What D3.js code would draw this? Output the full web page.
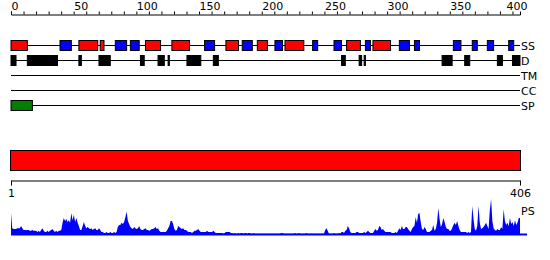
<!DOCTYPE html>
<html>
<head>
<meta charset="utf-8">
<script src="https://cdn.jsdelivr.net/npm/d3@7"></script>
<style>
body { margin: 0; background: #fff; }
svg { display: block; font-family: "DejaVu Sans", sans-serif; }
</style>
</head>
<body>
<svg id="chart" width="550" height="260"></svg>
<script>
// sequence length and ruler
var seqLength = 406;
var rulerTicks = [0, 50, 100, 150, 200, 250, 300, 350, 400];

// secondary structure (residue ranges)
var helix = [[1,14],[55,70],[72,75],[108,120],[129,143],[172,182],[197,205],[219,234],[268,279],[289,303]];
var strand = [[40,49],[84,93],[96,103],[155,163],[185,193],[211,217],[241,245],[258,264],[283,287],[310,318],[322,326],[353,359],[368,372],[380,385],[397,401]];

// disorder, transmembrane, coiled coil, signal peptide
var disorder = [[1,5],[14,38],[55,57],[71,80],[104,107],[118,123],[126,127],[141,152],[162,166],[264,267],[278,280],[282,283],[344,352],[362,366],[388,392],[400,406]];
var transmembrane = [];
var coiledCoil = [];
var signalPeptide = [[1,18]];

var rowLabels = ["SS", "D", "TM", "CC", "SP"];

// per-residue PS score
var psScores = [
  .58,.18,.16,.16,.16,.18,.18,.18,.24,.18,
  .13,.13,.13,.13,.13,.11,.11,.13,.11,.11,
  .11,.08,.11,.08,.13,.18,.11,.08,.08,.11,
  .08,.11,.13,.16,.11,.08,.11,.08,.11,.11,
  .13,.32,.45,.37,.42,.34,.39,.32,.58,.39,
  .53,.34,.45,.32,.24,.13,.13,.24,.34,.24,
  .18,.21,.18,.16,.18,.13,.16,.18,.13,.13,
  .18,.13,.08,.08,.05,.05,.08,.05,.05,.08,
  .05,.05,.08,.05,.08,.21,.26,.26,.32,.29,
  .34,.47,.61,.37,.29,.21,.18,.16,.21,.18,
  .16,.18,.24,.16,.13,.13,.16,.18,.13,.13,
  .11,.13,.16,.16,.18,.21,.16,.18,.11,.08,
  .08,.08,.08,.08,.11,.18,.24,.37,.37,.29,
  .16,.11,.13,.24,.21,.18,.16,.18,.13,.13,
  .11,.08,.08,.08,.05,.08,.11,.11,.13,.16,
  .11,.08,.08,.08,.08,.08,.11,.08,.08,.08,
  .08,.11,.08,.05,.05,.05,.05,.05,.05,.03,
  .05,.08,.08,.08,.08,.05,.05,.03,.05,.03,
  .03,.05,.03,.05,.05,.03,.05,.05,.03,.05,
  .05,.03,.03,.05,.03,.03,.03,.03,.03,.03,
  .03,.03,.03,.03,.03,.03,.03,.03,.03,.03,
  .03,.03,.03,.03,.03,.05,.05,.03,.03,.03,
  .03,.03,.03,.03,.03,.03,.05,.03,.03,.05,
  .03,.03,.03,.03,.03,.05,.03,.03,.03,.03,
  .03,.03,.03,.03,.03,.03,.03,.03,.03,.03,
  .13,.18,.11,.03,.03,.03,.03,.05,.03,.03,
  .03,.05,.03,.08,.08,.05,.11,.13,.24,.18,
  .08,.05,.05,.05,.05,.08,.08,.05,.05,.05,
  .05,.08,.05,.08,.11,.08,.05,.05,.05,.11,
  .16,.11,.13,.24,.21,.13,.16,.11,.08,.08,
  .08,.08,.08,.05,.05,.05,.08,.05,.11,.18,
  .13,.24,.16,.16,.21,.21,.16,.11,.08,.16,
  .21,.24,.47,.32,.55,.58,.34,.16,.13,.21,
  .16,.08,.08,.08,.11,.13,.26,.11,.16,.32,
  .71,.42,.21,.29,.45,.34,.21,.16,.16,.11,
  .11,.18,.26,.32,.26,.37,.24,.13,.08,.08,
  .08,.08,.08,.05,.08,.05,.08,.76,.42,.16,
  .11,.24,.76,.32,.16,.18,.21,.26,.32,.24,
  .16,.66,.95,.37,.18,.13,.11,.16,.13,.13,
  .21,.16,.68,.37,.26,.32,.24,.45,.29,.34,
  .24,.39,.26,.32,.45,.45
];

var svg = d3.select("#chart");
svg.append("rect").attr("width", 550).attr("height", 260).attr("fill", "#fff");

var left = 11, right = 520;
var x = d3.scaleLinear().domain([1, seqLength]).range([left, right]);
var xRuler = d3.scaleLinear().domain([0, seqLength]).range([left, right]);

// top ruler
var ruler = svg.append("g").attr("transform", "translate(0,14.5)")
  .call(d3.axisTop(xRuler)
    .tickValues(d3.range(0, 401, 10))
    .tickSize(3)
    .tickSizeOuter(3)
    .tickPadding(2)
    .tickFormat(function (d) { return rulerTicks.indexOf(d) >= 0 ? d : ""; }));
ruler.select(".domain").attr("stroke", "#000");
ruler.selectAll("line").attr("stroke", "#000");
ruler.selectAll("text")
  .attr("font-size", "11px").attr("font-family", "DejaVu Sans").attr("fill", "#000")
  .attr("text-anchor", "start")
  .attr("dx", function (d) { return d === 400 ? "-0.6em" : "0"; });

// feature rows
var rows = [
  { y: 45.5, boxes: helix.map(function (d) { return { s: d[0], e: d[1], c: "#ff0000" }; })
      .concat(strand.map(function (d) { return { s: d[0], e: d[1], c: "#0000ff" }; })) },
  { y: 60.5, boxes: disorder.map(function (d) { return { s: d[0], e: d[1], c: "#000000" }; }) },
  { y: 75.5, boxes: transmembrane.map(function (d) { return { s: d[0], e: d[1], c: "#ffff00" }; }) },
  { y: 90.5, boxes: coiledCoil.map(function (d) { return { s: d[0], e: d[1], c: "#00ffff" }; }) },
  { y: 105.5, boxes: signalPeptide.map(function (d) { return { s: d[0], e: d[1], c: "#008000" }; }) }
];

rows.forEach(function (row, i) {
  var g = svg.append("g");
  g.append("line")
    .attr("x1", x(1)).attr("x2", x(seqLength))
    .attr("y1", row.y).attr("y2", row.y)
    .attr("stroke", "#000").attr("stroke-width", 1);
  g.selectAll("rect")
    .data(row.boxes)
    .enter()
    .append("rect")
    .attr("x", function (d) { return x(d.s); })
    .attr("y", row.y - 5)
    .attr("width", function (d) { return Math.max(1, x(d.e) - x(d.s)); })
    .attr("height", 10)
    .attr("fill", function (d) { return d.c; })
    .attr("stroke", "#000")
    .attr("stroke-width", 1);
  g.append("text")
    .attr("x", right + 1)
    .attr("y", row.y + 4)
    .attr("font-size", "11px")
    .attr("fill", "#000")
    .text(rowLabels[i]);
});

// full length bar
svg.append("rect")
  .attr("x", x(1) - 0.5).attr("y", 150.5)
  .attr("width", x(seqLength) - x(1) + 1).attr("height", 20)
  .attr("fill", "#ff0000").attr("stroke", "#000").attr("stroke-width", 1);

// bottom axis 1..406
var bottom = svg.append("g").attr("transform", "translate(0,180.5)")
  .call(d3.axisBottom(x).tickValues([1, seqLength]).tickSize(5).tickSizeOuter(0).tickPadding(4));
bottom.select(".domain").attr("stroke", "#000");
bottom.selectAll("line").attr("stroke", "#000");
bottom.selectAll("text").attr("font-size", "11px").attr("font-family", "DejaVu Sans").attr("fill", "#000");

// PS profile
var y = d3.scaleLinear().domain([0, 1]).range([235, 197]);
var area = d3.area()
  .x(function (d, i) { return x(i + 1); })
  .y0(y(0))
  .y1(function (d) { return y(d); });
svg.append("path")
  .datum(psScores)
  .attr("d", area)
  .attr("fill", "#0000ff");
svg.append("line")
  .attr("x1", x(1)).attr("x2", x(seqLength) + 7)
  .attr("y1", y(0) - 0.5).attr("y2", y(0) - 0.5)
  .attr("stroke", "#0000ff").attr("stroke-width", 2);
svg.append("text")
  .attr("x", right + 1).attr("y", 215)
  .attr("font-size", "11px").attr("fill", "#000")
  .text("PS");
</script>
</body>
</html>
